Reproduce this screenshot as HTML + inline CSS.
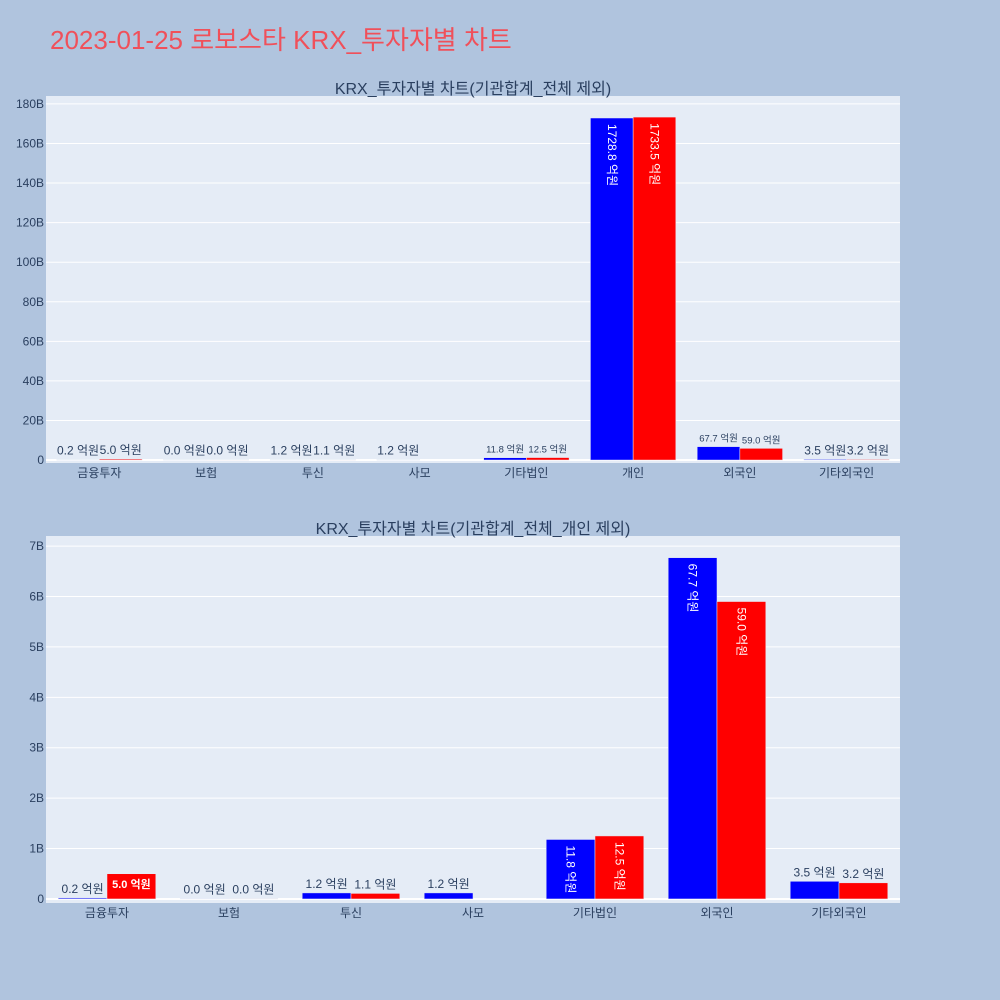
<!DOCTYPE html>
<html><head><meta charset="utf-8">
<style>
body{margin:0;background:#b0c4de;font-family:"Liberation Sans","Noto Sans CJK KR",sans-serif;}
svg{display:block}
</style></head>
<body>
<svg id="s" width="1000" height="1000" xmlns="http://www.w3.org/2000/svg">
<rect width="1000" height="1000" fill="#b0c4de"/>
<text x="50" y="49" font-size="26" fill="#f0505a" font-family="Liberation Sans, Noto Sans CJK KR, sans-serif">2023-01-25 로보스타 KRX_투자자별 차트</text>
</svg>
<script>
const cats1 = ["금융투자","보험","투신","사모","기타법인","개인","외국인","기타외국인"];
const buy1 = [0.2,0.0,1.2,1.2,11.8,1728.8,67.7,3.5];
const sell1 = [5.0,0.0,1.1,null,12.5,1733.5,59.0,3.2];
const ticks1 = [0,20,40,60,80,100,120,140,160,180];
const cats2 = ["금융투자","보험","투신","사모","기타법인","외국인","기타외국인"];
const buy2 = [0.2,0.0,1.2,1.2,11.8,67.7,3.5];
const sell2 = [5.0,0.0,1.1,null,12.5,59.0,3.2];
const ticks2 = [0,1,2,3,4,5,6,7];

const NS="http://www.w3.org/2000/svg";
const svg=document.getElementById('s');
function mk(tag,attrs,parent){const e=document.createElementNS(NS,tag);for(const k in attrs)e.setAttribute(k,attrs[k]);(parent||svg).appendChild(e);return e;}
const FONT="Liberation Sans, Noto Sans CJK KR, sans-serif";

function chart(cfg){
  const {x0,x1,yTop,yBot,vMin,vMax,cats,buy,sell,ticks,title,titleY,name}=cfg;
  const g=mk('g',{});
  
  
  const bg=mk('rect',{x:x0,y:yTop,width:x1-x0,height:yBot-yTop,fill:'#e5ecf6'},g);
  
  
  const yS=v=>yBot-(v-vMin)/(vMax-vMin)*(yBot-yTop);
  const slot=(x1-x0)/cats.length;
  const xC=i=>x0+slot*(i+0.5);
  ticks.forEach(t=>{
    const y=yS(t*1e9);
    const l=mk('line',{x1:x0,x2:x1,y1:y,y2:y,stroke:'#fff','stroke-width':t===0?2:1},g);
    
    
    const tx=mk('text',{x:x0-2,y:y+4,'text-anchor':'end','font-size':12,fill:'#2a3f5f','font-family':FONT},g);
    tx.textContent=t+(t===0?'':'B');
    
    
  });
  const tt=mk('text',{x:(x0+x1)/2,y:titleY,'text-anchor':'middle','font-size':16,fill:'#2a3f5f','font-family':FONT},g);
  tt.textContent=title;
  
  
  const bw=slot*0.8/2;
  cats.forEach((c,i)=>{
    const xl=mk('text',{x:xC(i),y:yBot+14,'text-anchor':'middle','font-size':12,fill:'#2a3f5f','font-family':FONT},g);
    xl.textContent=c;
    
    
    [[buy[i],'#0000ff',-1,'buy-bar'],[sell[i],'#ff0000',0,'sell-bar']].forEach(([v,col,off,nm])=>{
      if(v===null||v===undefined)return;
      const bx=xC(i)+off*bw;
      const y0=yS(0), yv=yS(v*1e8);
      const h=Math.max(y0-yv,0.5);
      const r=mk('rect',{x:bx,y:y0-h,width:bw,height:h,fill:col,stroke:'#e5ecf6','stroke-width':0.5},g);
      
      
      const lbl=v.toFixed(1)+' 억원';
      let t;
      if(h>=40){
        const cx=bx+bw/2, cy=y0-h+6;
        t=mk('text',{x:cx,y:cy,transform:`rotate(90 ${cx} ${cy})`,'font-size':12,fill:'#fff','dominant-baseline':'central','font-family':FONT},g);
      }else if(h>=20){
        t=mk('text',{x:bx+bw/2,y:y0-h+14,'text-anchor':'middle','font-size':11,'font-weight':'bold',fill:'#fff','font-family':FONT},g);
      }else{
        const fs=cfg.small&&i===4||cfg.small&&i===6?9.5:12;
        t=mk('text',{x:bx+bw/2,y:y0-h-5,'text-anchor':'middle','font-size':fs,fill:'#2a3f5f','font-family':FONT},g);
      }
      t.textContent=lbl;
      
      
    });
  });
}
chart({x0:46,x1:900,yTop:96,yBot:463,vMin:-1.5e9,vMax:184e9,cats:cats1,buy:buy1,sell:sell1,ticks:ticks1,title:"KRX_투자자별 차트(기관합계_전체 제외)",titleY:94,name:'chart-top',small:true});
chart({x0:46,x1:900,yTop:536,yBot:903,vMin:-0.08e9,vMax:7.2e9,cats:cats2,buy:buy2,sell:sell2,ticks:ticks2,title:"KRX_투자자별 차트(기관합계_전체_개인 제외)",titleY:534,name:'chart-bottom',small:false});
</script>
</body></html>
